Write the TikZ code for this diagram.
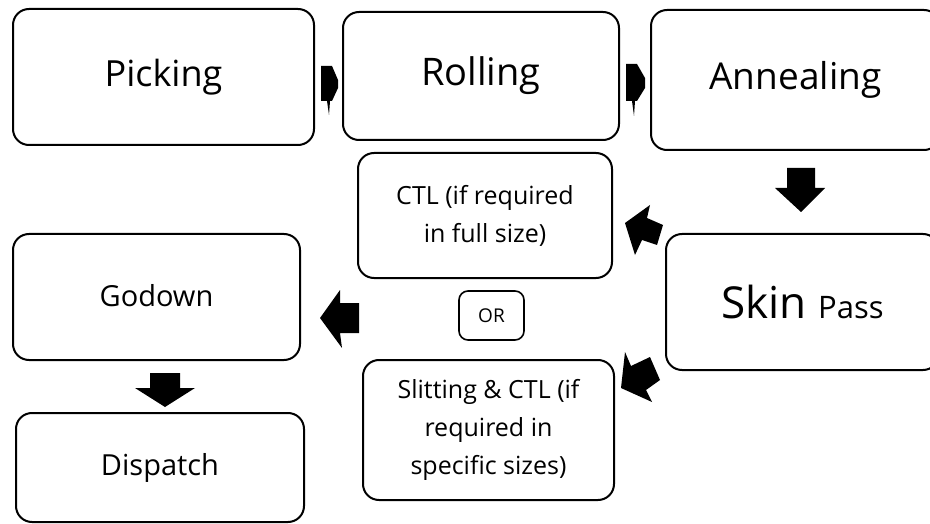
\documentclass[tikz,border=0pt]{standalone}
\usepackage{fontspec}
\setmainfont{Open Sans}
\begin{document}
\begin{tikzpicture}[x=1pt,y=-1pt,
  box/.style={draw=black,line width=2pt,rounded corners=16pt,align=center,inner sep=0pt},
  blk/.style={fill=black,draw=none}]
\useasboundingbox (0,0) rectangle (930,524);
\clip (0,0) rectangle (930,524);
% boxes
\node[box,minimum width=301pt,minimum height=136pt,font=\fontsize{36}{40}\selectfont] (pick) at (163.5,77) {Picking};
\node[box,minimum width=276pt,minimum height=128pt,font=\fontsize{38}{40}\selectfont] (roll) at (481,76) {Rolling};
\node[box,minimum width=289pt,minimum height=140pt,font=\fontsize{37}{40}\selectfont] (anneal) at (795.5,80) {Annealing};
\node[box,minimum width=254pt,minimum height=125pt,font=\fontsize{25}{38}\selectfont] (ctl) at (485,215.5) {CTL (if required\\in full size)};
\node[box,minimum width=273pt,minimum height=136pt] (skin) at (802.5,302) {\fontsize{44}{48}\selectfont Skin \fontsize{31}{36}\selectfont Pass};
\node[box,minimum width=287pt,minimum height=126pt,font=\fontsize{29}{32}\selectfont] (godown) at (156.5,297) {\raisebox{4pt}{Godown}};
\node[box,line width=1.6pt,rounded corners=9pt,minimum width=65pt,minimum height=49pt,font=\fontsize{19}{22}\selectfont] (or) at (491.5,315.5) {OR};
\node[box,minimum width=251pt,minimum height=140pt,font=\fontsize{25}{38}\selectfont] (slit) at (488.5,430) {Slitting \& CTL (if\\required in\\specific sizes)};
\node[box,minimum width=288pt,minimum height=109pt,font=\fontsize{29}{32}\selectfont] (disp) at (160,467.5) {Dispatch};
% block arrows
\fill[blk] (321,66) -- (332,66) -- (338,80) -- (338,88) -- (332,101) -- (330,101) -- (329,115) -- (327,101) -- (321,101) -- cycle;
\fill[blk] (626,64) -- (637,64) -- (645,78) -- (645,88) -- (637,101) -- (635,101) -- (634,116) -- (632,101) -- (626,101) -- cycle;
\fill[blk] (787,168) -- (815,168) -- (815,188) -- (825,188) -- (801,212) -- (775,188) -- (787,188) -- cycle;
\fill[blk] (625,223) -- (650,205) -- (647,218) -- (663,225) -- (657,245) -- (642,240) -- (635,255) -- cycle;
\fill[blk] (625,352) -- (631,366) -- (650,357) -- (660,380) -- (646,390) -- (652,402) -- (621,388) -- cycle;
\fill[blk] (320,318) -- (340,290) -- (340,303) -- (359,303) -- (359,333) -- (340,333) -- (342,348) -- cycle;
\fill[blk] (150,373) -- (180,373) -- (180,388) -- (195,388) -- (165,407) -- (135,388) -- (150,388) -- cycle;
\end{tikzpicture}
\end{document}
